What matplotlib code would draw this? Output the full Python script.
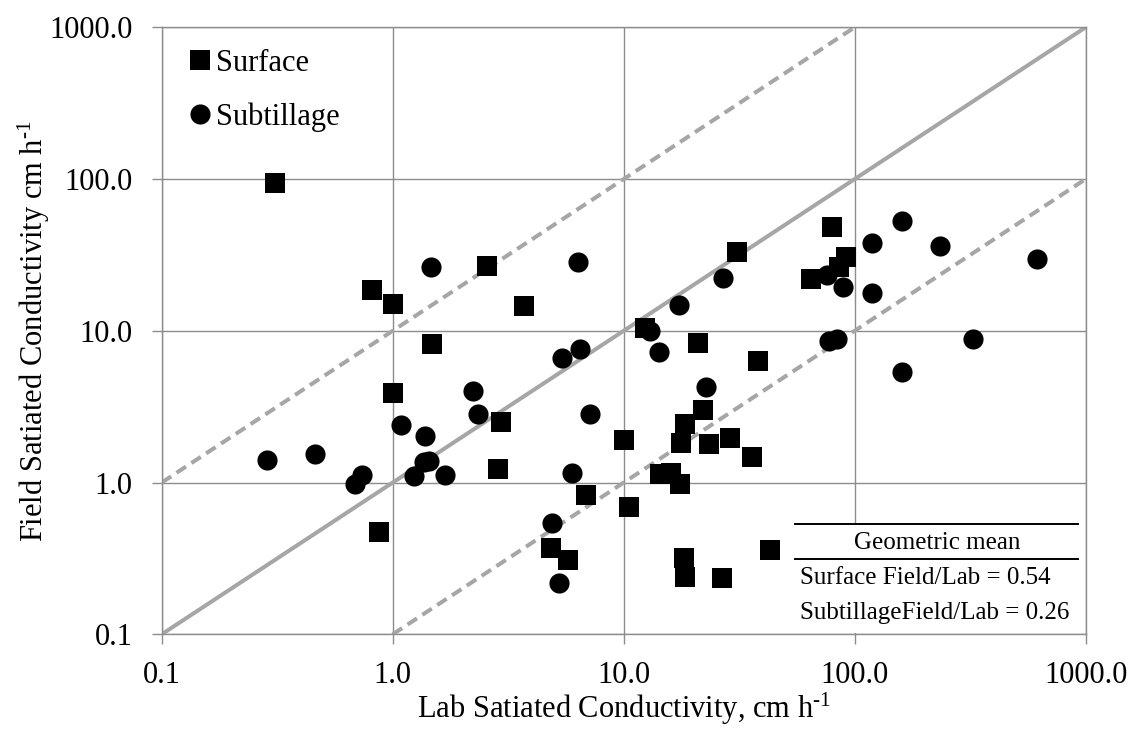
import numpy as np
import matplotlib
matplotlib.use("Agg")
import matplotlib.pyplot as plt
from matplotlib.patches import Rectangle
from matplotlib.lines import Line2D

plt.rcParams['font.family'] = ['Liberation Serif', 'DejaVu Serif']
plt.rcParams['mathtext.fontset'] = 'custom'
plt.rcParams['mathtext.rm'] = 'Liberation Serif'
plt.rcParams['mathtext.it'] = 'Liberation Serif:italic'

# saturated conductivity, cm/h  (lab, field)
surface_lab = [0.31, 0.81, 1.0, 2.57, 3.71, 31.0, 64.5, 12.4, 20.9, 80.0, 91.6, 85.7,
               1.48, 1.0, 0.87, 2.94, 2.85, 6.87, 10.06, 10.57, 4.84, 5.72, 38.0, 22.1,
               18.5, 17.7, 23.3, 28.8, 35.8, 14.4, 16.0, 17.5, 18.2, 18.4, 26.7, 43.0]
surface_field = [94.7, 18.6, 15.0, 26.7, 14.6, 33.2, 22.0, 10.5, 8.28, 48.6, 30.8, 26.5,
                 8.2, 3.88, 0.471, 2.49, 1.23, 0.83, 1.91, 0.689, 0.37, 0.31, 6.33, 3.01,
                 2.42, 1.82, 1.80, 1.96, 1.47, 1.13, 1.16, 0.98, 0.318, 0.240, 0.236, 0.36]

sub_lab = [1.46, 6.36, 17.4, 26.9, 13.0, 75.6, 88.7, 118.9, 118.9, 159.7, 233.9, 617.0,
           77.5, 84.0, 325.0, 159.7, 2.23, 2.33, 1.09, 1.38, 1.37, 1.43, 1.24, 1.69,
           0.734, 0.687, 0.286, 0.461, 5.39, 6.47, 7.14, 5.97, 4.88, 5.26, 14.2, 22.7]
sub_field = [26.5, 28.6, 14.7, 22.4, 9.9, 23.4, 19.4, 37.8, 17.7, 53.2, 36.4, 29.6,
             8.5, 8.8, 8.85, 5.36, 3.98, 2.82, 2.40, 2.03, 1.36, 1.38, 1.11, 1.12,
             1.12, 0.98, 1.41, 1.54, 6.66, 7.6, 2.82, 1.16, 0.54, 0.217, 7.3, 4.29]

# 1:1 line and the 10x / 0.1x bands
one_to_one = [0.1, 1000.0]
upper_x = [0.1, 100.0]
lower_x = [1.0, 1000.0]

ticks = [0.1, 1, 10, 100, 1000]
tick_labels = ['0.1', '1.0', '10.0', '100.0', '1000.0']

geo_mean_surface = 0.54
geo_mean_sub = 0.26

fig = plt.figure(figsize=(11.35, 7.31), dpi=100)
ax = fig.add_axes([0.1425, 0.1323, 0.8141, 0.8304])
ax.set_xscale('log')
ax.set_yscale('log')
ax.set_xlim(0.1, 1000)
ax.set_ylim(0.1, 1000)

grid_col = '#8c8c8c'
line_col = '#a6a6a6'
ax.grid(True, which='major', color=grid_col, lw=1.0, zorder=0)
ax.set_axisbelow(True)
for s in ax.spines.values():
    s.set_color(grid_col)
    s.set_linewidth(1.0)

ax.plot(one_to_one, one_to_one, color=line_col, lw=2.9, zorder=2)
ax.plot(upper_x, [v * 10 for v in upper_x], color=line_col, lw=2.9,
        dashes=(2.8, 1.6), zorder=2)
ax.plot(lower_x, [v * 0.1 for v in lower_x], color=line_col, lw=2.9,
        dashes=(2.8, 1.6), zorder=2)

ax.plot(surface_lab, surface_field, 's', color='black', ms=14.5, mew=0,
        label='Surface', zorder=4)
ax.plot(sub_lab, sub_field, 'o', color='black', ms=14.5, mew=0,
        label='Subtillage', zorder=4)

ax.set_xticks(ticks)
ax.set_xticklabels(tick_labels)
ax.set_yticks(ticks)
ax.set_yticklabels(tick_labels)
ax.minorticks_off()
ax.tick_params(axis='both', direction='out', length=7, width=1.0, color=grid_col,
               labelsize=22)
ax.tick_params(axis='x', pad=12)
ax.tick_params(axis='y', pad=14)

ax.set_xlabel(r'Lab Satiated Conductivity, cm h$^{\text{-}1}$', fontsize=22, labelpad=1)
ax.set_ylabel(r'Field Satiated Conductivity cm h$^{\text{-}1}$', fontsize=22, labelpad=-2)

ax.legend(loc='upper left', bbox_to_anchor=(0.012, 0.995), frameon=False,
          fontsize=22, handlelength=0.6, handletextpad=0.2, labelspacing=0.8,
          borderaxespad=0.2)

# geometric mean table, drawn in figure pixels
def fx(px):
    return px / 1135
def fy(py):
    return 1 - py / 731

tx0, tx1 = 795, 1078
bg = Rectangle((fx(tx0), fy(633)), fx(tx1) - fx(tx0), fy(524) - fy(633),
               transform=fig.transFigure, facecolor='white', edgecolor='none', zorder=3)
fig.add_artist(bg)
for yy in (524, 559):
    fig.add_artist(Line2D([fx(tx0), fx(tx1)], [fy(yy), fy(yy)], color='black', lw=1.4,
                          transform=fig.transFigure, zorder=5))
fig.text(fx(937), fy(543), 'Geometric mean', ha='center', va='center', fontsize=18, zorder=6)
fig.text(fx(800), fy(578), 'Surface Field/Lab = %.2f' % geo_mean_surface,
         ha='left', va='center', fontsize=18, zorder=6)
fig.text(fx(800), fy(613), 'SubtillageField/Lab = %.2f' % geo_mean_sub,
         ha='left', va='center', fontsize=18, zorder=6)

fig.savefig('out.png', dpi=100)
